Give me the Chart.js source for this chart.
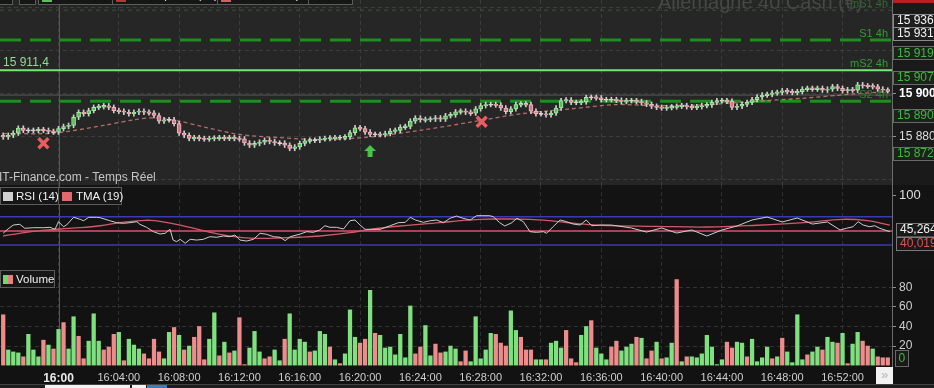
<!DOCTYPE html>
<html>
<head>
<meta charset="utf-8">
<script src="https://cdn.jsdelivr.net/npm/chart.js@4.4.0/dist/chart.umd.min.js"></script>
<style>
body { margin: 0; background: #121212; width: 934px; height: 388px; overflow: hidden; position: relative; font-family: 'Liberation Sans', Arial, sans-serif; }
canvas { position: absolute; left: 0; }
.box { position: absolute; border: 1px solid #5c5c5c; background: #161616; color: #f0f0f0; font-size: 11.5px; box-sizing: border-box; white-space: nowrap; }
.box span { position: absolute; }
.sq { width: 10px; height: 9px; }
</style>
</head>
<body>
<canvas id="price" width="934" height="185" style="top:0"></canvas>
<canvas id="rsi" width="934" height="84" style="top:185px"></canvas>
<canvas id="vol" width="934" height="119" style="top:269px"></canvas>

<!-- top legend bar (mostly off screen) -->
<div class="box" style="left:-2px;top:-10px;width:15px;height:15px"></div>
<div class="box" style="left:19px;top:-10px;width:17px;height:15px"></div>
<div class="box" style="left:38px;top:-10px;width:75px;height:15px"><span class="sq" style="left:3px;top:2px;background:#5cbf5c"></span><span style="left:16px;top:-2px">Histori. Plein</span></div>
<div class="box" style="left:112px;top:-10px;width:106px;height:15px"><span class="sq" style="left:3px;top:2px;background:#c03030"></span><span style="left:16px;top:-2px">Points pivots (4h)</span></div>
<div class="box" style="left:217px;top:-10px;width:92px;height:15px"><span class="sq" style="left:3px;top:2px;background:#d06060"></span><span style="left:16px;top:-2px">Mm. Triées (19)</span></div>
<div class="box" style="left:308px;top:-10px;width:45px;height:15px"><span style="left:6px;top:-2px">Prix</span></div>

<!-- RSI legend -->
<div class="box" style="left:0;top:187px;width:122px;height:18px">
  <span class="sq" style="left:2px;top:4px;background:#cfcfcf"></span>
  <span style="left:15px;top:2px">RSI (14)</span>
  <span style="left:57px;top:0;width:1px;height:16px;background:#5c5c5c"></span>
  <span class="sq" style="left:61px;top:4px;background:#e06a6a"></span>
  <span style="left:75px;top:2px">TMA (19)</span>
</div>

<!-- Volume legend -->
<div class="box" style="left:0;top:270px;width:55px;height:18px">
  <span style="left:2px;top:4px;width:5px;height:9px;background:#6fd86f"></span>
  <span style="left:7px;top:4px;width:5px;height:9px;background:#e88080"></span>
  <span style="left:15px;top:2px">Volume</span>
</div>

<!-- scroll button and bar -->
<div style="position:absolute;left:876px;top:367px;width:17px;height:17px;background:#f2f2f2;color:#b8b8b8;font-size:13px;line-height:16px;text-align:center">»</div>
<div style="position:absolute;left:0;top:384px;width:934px;height:4px;background:#1c1c1c;border-top:1px solid #444"></div>
<div style="position:absolute;left:45px;top:385px;width:85px;height:3px;background:#f4f4f4"></div>
<div style="position:absolute;left:132px;top:385px;width:14px;height:3px;background:#f4f4f4"></div>
<div style="position:absolute;left:147px;top:385px;width:20px;height:3px;background:#3d7fb5"></div>

<script>
// ---- data, one entry per 20 s bar, bar 11 = 16:00:00 ----
const closes = [
  15880.0, 15880.8, 15881.8, 15884.1, 15883.1, 15883.1, 15883.1, 15883.4, 15883.1, 15882.6,
  15882.3, 15883.9, 15884.9, 15885.4, 15889.2, 15891.5, 15890.8, 15892.3, 15893.8, 15894.1,
  15894.5, 15893.8, 15892.3, 15892.0, 15891.5, 15890.8, 15891.5, 15892.0, 15891.5, 15891.2,
  15890.0, 15887.4, 15888.0, 15888.0, 15886.2, 15881.8, 15880.8, 15879.3, 15879.7, 15879.3,
  15879.1, 15879.3, 15879.5, 15879.7, 15879.4, 15879.7, 15879.3, 15879.1, 15877.2, 15876.2,
  15877.0, 15877.6, 15878.5, 15877.9, 15877.2, 15877.2, 15876.2, 15874.7, 15875.4, 15877.0,
  15878.2, 15878.5, 15878.5, 15879.1, 15879.3, 15879.5, 15879.7, 15879.7, 15880.0, 15882.0,
  15884.3, 15883.9, 15882.3, 15881.2, 15881.2, 15881.1, 15881.6, 15882.8, 15883.1, 15884.6,
  15884.9, 15887.4, 15888.8, 15888.0, 15888.2, 15888.3, 15888.9, 15888.3, 15889.9, 15890.3,
  15891.7, 15892.0, 15891.5, 15891.1, 15893.1, 15894.6, 15895.1, 15895.1, 15894.9, 15893.5,
  15891.8, 15893.1, 15895.1, 15895.4, 15895.1, 15892.0, 15890.8, 15890.8, 15890.3, 15891.1,
  15893.5, 15896.9, 15897.2, 15896.1, 15896.1, 15896.3, 15898.4, 15898.4, 15898.2, 15897.4,
  15897.4, 15897.4, 15897.1, 15896.5, 15896.9, 15896.9, 15896.5, 15895.9, 15895.2, 15894.3,
  15893.8, 15893.5, 15893.7, 15894.0, 15894.3, 15894.6, 15894.1, 15893.8, 15894.1, 15894.6,
  15894.9, 15896.1, 15896.9, 15896.9, 15896.6, 15893.8, 15894.3, 15895.2, 15896.1, 15897.4,
  15898.6, 15899.5, 15899.8, 15900.5, 15900.7, 15901.5, 15901.1, 15900.7, 15901.1, 15902.3,
  15902.6, 15902.3, 15902.6, 15901.8, 15902.3, 15903.4, 15902.6, 15901.5, 15902.0, 15901.8,
  15904.3, 15903.8, 15903.7, 15903.4, 15902.3, 15901.8, 15901.5
]
const firstOpen = 15880.8

const volumes = [
  52, 16, 14, 13, 9, 32, 16, 9, 26, 21,
  17, 37, 44, 17, 50, 30, 7, 25, 53, 25,
  16, 19, 32, 34, 5, 27, 21, 17, 12, 7,
  27, 14, 7, 34, 39, 31, 16, 20, 29, 40,
  6, 27, 54, 10, 24, 13, 15, 49, 1, 18,
  35, 14, 7, 9, 16, 5, 27, 53, 16, 27,
  24, 14, 15, 35, 32, 19, 6, 2, 12, 57,
  29, 23, 27, 77, 33, 31, 18, 19, 11, 32,
  8, 61, 12, 19, 41, 10, 22, 13, 14, 20,
  17, 4, 15, 4, 50, 7, 16, 33, 32, 23,
  20, 56, 36, 29, 16, 16, 6, 6, 6, 23,
  25, 18, 36, 7, 3, 31, 40, 46, 18,
  12, 6, 19, 25, 15, 19, 22, 29, 28, 7,
  15, 24, 7, 8, 23, 88, 4, 9, 9, 8,
  12, 31, 19, 1, 6, 24, 18, 24, 23, 9,
  27, 4, 8, 19, 7, 9, 28, 14, 3, 52,
  6, 11, 14, 19, 16, 29, 24, 23, 33, 2,
  22, 34, 25, 20, 17, 9, 8, 8
]
// g = buying volume, r = selling volume
const volumeSides =
  'rgggrgggrg' + 'rgrggrrggg' + 'rrrgrgggrr' + 'rrggrgrgrr' + 'rggrgrgrrg' + 'ggrrggrggg' +
  'grgggrgrgg' + 'grrgrggggg' + 'ggrrggrrgg' + 'grrgggggrr' + 'rggrrrggrg' + 'ggrrrggrg' +
  'ggrrgggrgr' + 'rgrggrgrgg' + 'gggggrrggr' + 'ggggrgrggg' + 'grggrggrgr' + 'ggrrgrrr'

// moving average drawn on the price panel
const maBars = [0, 10, 20, 26, 30, 35, 40, 47, 55, 63, 73, 83, 93, 103, 113, 122, 129, 139, 149, 159, 169, 176]
const maValues = [15881.6, 15881.8, 15885.4, 15888.0, 15888.9, 15887.4, 15884.6, 15881.2, 15879.7, 15878.8, 15880.0,
  15883.1, 15886.9, 15890.8, 15893.1, 15895.1, 15894.6, 15894.9, 15896.5, 15898.0, 15900.0, 15901.1]

// pivot levels (4h)
const levelNames = ['mS1 4h', 'S1 4h', 'mS2 4h', 'S2 4h']
const levelValues = [15939.0, 15925.1, 15911.0, 15896.6]
const refLine = 15899.5
const markLabel = '15 911,4'

// signals
const sellSignals = [{ x: 8, y: 15877.1 }, { x: 95.2, y: 15887.1 }]
const buySignals = [{ x: 73, y: 15873.5 }]

// right-axis value tags
const priceTags = [
  { text: '15 936,8', value: 15936.8, kind: 'w' },
  { text: '15 931,4', value: 15931.4, kind: 'w' },
  { text: '15 919,2', value: 15919.2, kind: 'g' },
  { text: '15 907,6', value: 15907.6, kind: 'g' },
  { text: '15 890,1', value: 15890.1, kind: 'g' },
  { text: '15 872,5', value: 15872.5, kind: 'g' }
]
const priceTicks = [15860, 15880, 15900, 15920, 15940]
const priceLabelled = [15880, 15900]

// RSI (14) and its TMA (19)
const rsiBars = [0, 0.7, 2, 3.3, 4.3, 6, 8, 9.3, 10.3, 11, 12, 12.6, 14, 15.3, 16, 17, 18.6, 19.3, 21.2, 22.6,
  23.9, 25.2, 26.6, 27.2, 28.5, 29.9, 31.2, 32.2, 33.2, 33.8, 34.5, 35.2, 36.2, 37.2, 38.5, 39.8, 41.1, 42.5, 43.8, 45.1,
  46.1, 47.1, 48.4, 49.8, 51.1, 52.4, 53.8, 55.1, 56.1, 57.1, 59.1,
  60.4, 61.7, 63, 64, 65, 66.3, 67.7, 69, 70, 71, 72, 73.3, 75, 77, 78.6, 80, 81, 82, 83.6, 85,
  86.2, 87.6, 88.9, 90.2, 91.5, 92.9, 94.2, 96.8, 97.5, 98.8, 99.8, 101.2, 102.2, 103.5, 104.8, 106.1, 107.5, 108.1, 109.4, 110.8,
  112.1, 113.4, 114.8, 116, 117.1, 118.7,
  121, 125, 128, 131, 134, 137, 140, 143, 146, 149, 152, 155, 158, 161, 164, 166.5, 167.8, 169.1, 170.1, 171.1,
  172.4, 173.4, 174.4, 176.4]
const rsiValues = [46.6, 51.3, 58.3, 59.3, 53.7, 54.5, 54.5, 55.1, 52.2, 63.0, 55.9, 58.3, 69.2, 66.4, 64.4, 69.2, 69.2, 68.6, 64.4, 61.6,
  60.7, 61.6, 63.0, 59.3, 55.1, 48.9, 45.6, 46.6, 52.2, 37.1, 34.8, 38.1, 32.5, 38.1, 37.1, 38.1, 41.8, 41.0, 42.8, 41.8,
  44.2, 37.1, 35.7, 38.1, 46.6, 45.2, 41.8, 41.0, 36.2, 41.8, 45.6,
  48.9, 48.0, 51.3, 57.3, 55.1, 55.1, 52.7, 64.4, 65.4, 58.3, 52.2, 52.2, 52.2, 57.3, 61.6, 62.1, 69.2, 65.4, 62.1, 64.4,
  65.4, 61.6, 67.8, 71.0, 67.8, 65.4, 71.5, 71.5, 70.1, 61.6, 56.9, 61.6, 67.8, 63.0, 48.9, 48.0, 48.9, 46.6, 55.9, 65.4,
  63.0, 59.7, 58.3, 65.4, 57.3, 58.3,
  58.3, 54.1, 48.4, 54.1, 47.0, 51.3, 42.8, 51.3, 56.9, 65.4, 69.6, 62.6, 68.2, 59.7, 62.6, 51.3, 53.7, 55.9, 63.0, 58.3,
  55.9, 57.3, 53.7, 48.9]
const tmaBars = [0, 3.3, 7.3, 11.3, 15.3, 19.3, 23.2, 27.2, 29.2, 31.2, 35.2, 39.2, 43.1, 47.1, 51.1, 55.1, 59.1, 63, 69, 73,
  79, 86.9, 90.9, 94.9, 98.8, 104.8, 108.8, 112.1, 116.1, 118.7, 130, 140, 150, 160, 167, 172, 176.4]
const tmaValues = [42.8, 46.6, 50.3, 52.7, 54.5, 57.3, 61.6, 64.4, 65.0, 63.6, 58.3, 51.3, 45.2, 41.0, 39.5, 40.0, 41.0, 42.8, 47.5, 52.2,
  56.9, 61.6, 64.4, 66.4, 66.8, 66.4, 64.4, 61.6, 59.3, 57.9, 56.5, 55.5, 58.0, 62.0, 66.4, 64.4, 58.3]
const rsiBands = [70, 30]
const rsiMid = 50
const rsiTags = [{ text: '45,264', value: 45.264, color: '#f0f0f0' }, { text: '40,019', value: 40.019, color: '#e05050' }]

// time axis
const timeBars = [11, 23, 35, 47, 59, 71, 83, 95, 107, 119, 131, 143, 155, 167]
const timeLabels = ['16:00', '16:04:00', '16:08:00', '16:12:00', '16:16:00', '16:20:00', '16:24:00',
  '16:28:00', '16:32:00', '16:36:00', '16:40:00', '16:44:00', '16:48:00', '16:52:00']
const volumeTicks = [0, 20, 40, 60, 80]

const titleText = 'Allemagne 40 Cash (€)'
const sourceText = 'IT-Finance.com - Temps Réel'

// ---- layout ----
const X_MIN = -0.64, X_MAX = 176.84
const AXIS_W = 42
const FONT = "'Liberation Sans', Arial, sans-serif"

Chart.defaults.font.family = FONT
Chart.defaults.font.size = 11
Chart.defaults.animation = false
Chart.defaults.events = []
Chart.defaults.plugins.legend.display = false
Chart.defaults.plugins.tooltip.enabled = false

const bars = closes.map((c, i) => i)
const opens = closes.map((c, i) => i === 0 ? firstOpen : closes[i - 1])

function xScale(showLabels, gridColor) {
	return {
		type: 'linear', min: X_MIN, max: X_MAX, offset: false,
		grid: { color: gridColor, drawTicks: false, offset: false },
		border: { display: false, dash: [4, 3] },
		ticks: {
			display: showLabels, padding: 5, maxRotation: 0, autoSkip: false,
			color: ctx => ctx.index === 0 ? '#e8e8e8' : '#cfcfcf',
			font: ctx => ctx.index === 0 ? { size: 12, weight: 'bold' } : { size: 11 },
			callback: (v, i) => timeLabels[i]
		},
		afterBuildTicks: s => { s.ticks = timeBars.map(v => ({ value: v })) },
		afterFit: s => { s.height = showLabels ? 22 : 0; s.paddingLeft = 0; s.paddingRight = 0 }
	}
}

function background(plotColor, axisColor) {
	return {
		id: 'bg',
		beforeDraw(c) {
			const { ctx, chartArea: a } = c
			ctx.save()
			ctx.fillStyle = axisColor
			ctx.fillRect(0, 0, c.width, c.height)
			ctx.fillStyle = plotColor
			ctx.fillRect(a.left, a.top, a.right - a.left, a.bottom - a.top)
			ctx.restore()
		},
		beforeDatasetsDraw(c) {
			// the session start line is solid
			const { ctx, chartArea: a } = c
			const x = Math.round(c.scales.x.getPixelForValue(timeBars[0])) + 0.5
			ctx.save()
			ctx.strokeStyle = '#575757'
			ctx.lineWidth = 1
			ctx.beginPath(); ctx.moveTo(x, a.top); ctx.lineTo(x, a.bottom); ctx.stroke()
			ctx.restore()
		}
	}
}

function drawTag(ctx, x, yc, text, textColor, fill, stroke) {
	ctx.save()
	ctx.font = '12px ' + FONT
	const w = ctx.measureText(text).width + 8
	ctx.fillStyle = fill
	ctx.fillRect(x, yc - 6.5, w, 13)
	ctx.strokeStyle = stroke
	ctx.lineWidth = 1
	ctx.strokeRect(x + 0.5, Math.round(yc - 6.5) + 0.5, w, 13)
	ctx.fillStyle = textColor
	ctx.textBaseline = 'middle'
	ctx.fillText(text, x + 4, yc + 0.5)
	ctx.restore()
}

const line = (x0, x1, y, color, width, dash) => ({
	type: 'line', data: [{ x: x0, y }, { x: x1, y }], borderColor: color, borderWidth: width,
	borderDash: dash, pointRadius: 0, order: 8
})

const baseOptions = () => ({
	responsive: false,
	devicePixelRatio: 1,
	layout: { padding: 0, autoPadding: false }
})

// ---- price panel ----
const arrowImg = document.createElement('canvas')
arrowImg.width = 12; arrowImg.height = 12
{
	const a = arrowImg.getContext('2d')
	a.fillStyle = '#45c845'
	a.beginPath()
	a.moveTo(6, 0); a.lineTo(12, 6); a.lineTo(8.5, 6); a.lineTo(8.5, 12)
	a.lineTo(3.5, 12); a.lineTo(3.5, 6); a.lineTo(0, 6); a.closePath(); a.fill()
}

const upCol = '#5cbf5c', upEdge = '#a6e8a6', dnCol = '#d27884', dnEdge = '#f2b6be', flatCol = '#d8c0c4'
const dir = bars.map(i => Math.sign(closes[i] - opens[i]))

const priceDecor = {
	id: 'priceDecor',
	beforeDatasetsDraw(c) {
		const { ctx } = c
		ctx.save()
		ctx.font = '20px ' + FONT
		ctx.fillStyle = '#474747'
		ctx.fillText(titleText, 658, 9)
		ctx.restore()
	},
	afterDatasetsDraw(c) {
		const { ctx } = c
		const y = c.scales.y
		ctx.save()
		ctx.font = '11px ' + FONT
		ctx.textAlign = 'right'
		const colors = ['#2f6a2f', '#2f9f2f', '#2f9f2f', '#2a8a2a']
		levelNames.forEach((n, i) => {
			ctx.fillStyle = colors[i]
			ctx.fillText(n, 888, y.getPixelForValue(levelValues[i]) - 3)
		})
		ctx.textAlign = 'left'
		ctx.font = '12px ' + FONT
		ctx.fillStyle = '#8fdc8f'
		ctx.fillText(markLabel, 3, y.getPixelForValue(levelValues[2]) - 4)
		ctx.fillStyle = '#c4c4c4'
		ctx.fillText(sourceText, -1, 181)
		ctx.restore()
	},
	afterDraw(c) {
		const { ctx } = c
		const y = c.scales.y
		const x0 = c.chartArea.right + 1
		ctx.save()
		ctx.fillStyle = '#b81e1e'
		ctx.fillRect(x0, 0, 50, 3)
		ctx.restore()
		// tags are stacked under the red one so they never overlap
		let last = 13
		priceTags.forEach(t => {
			let yc = Math.max(y.getPixelForValue(t.value), last + 7)
			last = yc + 6.5
			if (t.kind === 'w') drawTag(ctx, x0, yc, t.text, '#f2f2f2', '#1e1e1e', '#8a8a8a')
			else drawTag(ctx, x0, yc, t.text, '#3fb83f', '#1b231b', '#6a6a6a')
		})
	}
}

new Chart(document.getElementById('price'), {
	type: 'bar',
	data: {
		datasets: [
			line(X_MIN, X_MAX, refLine, '#5a5a5a', 1, []),
			line(X_MIN, X_MAX, levelValues[0], '#34563a', 1, [4, 4]),
			line(X_MIN, X_MAX, levelValues[1], '#1d8f1d', 3, [21, 9]),
			line(X_MIN, X_MAX, levelValues[2], '#74e874', 2, []),
			line(X_MIN, X_MAX, levelValues[3], '#1d8f1d', 3, [21, 9]),
			{
				type: 'line', data: maBars.map((b, i) => ({ x: b, y: maValues[i] })),
				borderColor: 'rgba(205,120,120,0.85)', borderWidth: 1.3, borderDash: [4, 3],
				pointRadius: 0, tension: 0.3, order: 6
			},
			{
				type: 'bar', grouped: false, order: 5, barThickness: 1,
				data: bars.map(i => ({ x: i, y: [Math.min(opens[i], closes[i]) - 1.1, Math.max(opens[i], closes[i]) + 1.1] })),
				backgroundColor: '#cfcfcf'
			},
			{
				type: 'bar', grouped: false, order: 4, barThickness: 4, borderWidth: 1, borderSkipped: false,
				data: bars.map(i => {
					const lo = Math.min(opens[i], closes[i]), hi = Math.max(opens[i], closes[i])
					return { x: i, y: hi - lo < 0.5 ? [lo - 0.25, hi + 0.25] : [lo, hi] }
				}),
				backgroundColor: dir.map(d => d > 0 ? upCol : d < 0 ? dnCol : flatCol),
				borderColor: dir.map(d => d > 0 ? upEdge : d < 0 ? dnEdge : '#efe4e6')
			},
			{
				type: 'line', showLine: false, data: sellSignals, order: 1,
				pointStyle: 'crossRot', pointRadius: 7, borderColor: '#e85e5e', borderWidth: 3.5
			},
			{
				type: 'line', showLine: false, data: buySignals, order: 1,
				pointStyle: arrowImg, pointRadius: 6
			}
		]
	},
	options: {
		...baseOptions(),
		scales: {
			x: xScale(false, '#3c3c3c'),
			y: {
				position: 'right', min: 15857.67, max: 15943.72,
				grid: {
					color: '#3c3c3c', drawTicks: true, tickLength: 4,
					tickColor: ctx => priceLabelled.includes(ctx.tick && ctx.tick.value) ? '#909090' : 'transparent'
				},
				border: { display: true, color: '#6c6c6c', dash: [4, 3] },
				ticks: {
					padding: 3,
					color: ctx => ctx.tick && ctx.tick.value === 15900 ? '#ffffff' : '#dedede',
					font: ctx => ctx.tick && ctx.tick.value === 15900 ? { size: 12, weight: 'bold' } : { size: 12 },
					callback: v => priceLabelled.includes(v) ? String(v).slice(0, 2) + ' ' + String(v).slice(2) : ''
				},
				afterBuildTicks: s => { s.ticks = priceTicks.map(v => ({ value: v })) },
				afterFit: s => { s.width = AXIS_W; s.paddingTop = 0; s.paddingBottom = 0 }
			}
		}
	},
	plugins: [background('#262626', '#1a1a1a'), priceDecor]
})

// ---- RSI panel ----
const rsiDecor = {
	id: 'rsiDecor',
	afterDraw(c) {
		const { ctx } = c
		const y = c.scales.y
		const x0 = c.chartArea.right + 4
		const ys = rsiTags.map(t => y.getPixelForValue(t.value))
		const mid = (ys[0] + ys[1]) / 2
		rsiTags.forEach((t, i) => drawTag(ctx, x0, mid + (i === 0 ? -7 : 7), t.text, t.color, '#1a1a1a', '#7a7a7a'))
	}
}

new Chart(document.getElementById('rsi'), {
	type: 'bar',
	data: {
		datasets: [
			line(X_MIN, X_MAX, rsiBands[0], '#3a3ab4', 1.5, []),
			line(X_MIN, X_MAX, rsiBands[1], '#3a3ab4', 1.5, []),
			line(X_MIN, X_MAX, rsiMid, '#e0506e', 1.5, []),
			{
				type: 'line', data: tmaBars.map((b, i) => ({ x: b, y: tmaValues[i] })),
				borderColor: '#d4586a', borderWidth: 1.3, pointRadius: 0, tension: 0.4, order: 3
			},
			{
				type: 'line', data: rsiBars.map((b, i) => ({ x: b, y: rsiValues[i] })),
				borderColor: '#cdcdcd', borderWidth: 1, pointRadius: 0, order: 2
			}
		]
	},
	options: {
		...baseOptions(),
		scales: {
			x: xScale(false, '#303030'),
			y: {
				position: 'right', min: -3.81, max: 114.83,
				grid: { color: 'transparent', drawTicks: true, tickLength: 4, tickColor: '#909090' },
				border: { display: true, color: '#6c6c6c' },
				ticks: { padding: 3, color: '#dedede', font: { size: 13 }, callback: v => String(v) },
				afterBuildTicks: s => { s.ticks = [{ value: 100 }] },
				afterFit: s => { s.width = AXIS_W; s.paddingTop = 0; s.paddingBottom = 0 }
			}
		}
	},
	plugins: [background('#131313', '#131313'), rsiDecor]
})

// ---- volume panel ----
const volDecor = {
	id: 'volDecor',
	afterDraw(c) {
		const { ctx } = c
		const x0 = c.chartArea.right + 3
		const yc = c.scales.y.getPixelForValue(0) - 8
		ctx.save()
		ctx.fillStyle = '#1a1a1a'
		ctx.fillRect(x0, yc - 8, 13, 16)
		ctx.strokeStyle = '#6a6a6a'
		ctx.strokeRect(x0 + 0.5, Math.round(yc - 8) + 0.5, 13, 16)
		ctx.fillStyle = '#3fb83f'
		ctx.font = '12px ' + FONT
		ctx.textBaseline = 'middle'
		ctx.fillText('0', x0 + 3.5, yc + 1)
		ctx.restore()
	}
}

new Chart(document.getElementById('vol'), {
	type: 'bar',
	data: {
		datasets: [{
			type: 'bar', grouped: false, barThickness: 3.6,
			data: bars.map(i => ({ x: i, y: volumes[i] })),
			backgroundColor: bars.map(i => volumeSides[i] === 'g' ? '#7fe07f' : '#ee8c8c')
		}]
	},
	options: {
		...baseOptions(),
		scales: {
			x: xScale(true, '#303030'),
			y: {
				position: 'right', min: -0.4, max: 98.8,
				grid: {
					color: ctx => ctx.tick && ctx.tick.value === 0 ? 'transparent' : '#333333',
					drawTicks: true, tickLength: 4,
					tickColor: ctx => ctx.tick && ctx.tick.value === 0 ? 'transparent' : '#909090'
				},
				border: { display: true, color: '#6c6c6c', dash: [4, 3] },
				ticks: { padding: 3, color: '#cfcfcf', font: { size: 12 }, callback: v => v === 0 ? '' : String(v) },
				afterBuildTicks: s => { s.ticks = volumeTicks.map(v => ({ value: v })) },
				afterFit: s => { s.width = AXIS_W; s.paddingTop = 0; s.paddingBottom = 0 }
			}
		}
	},
	plugins: [background('#121212', '#121212'), volDecor]
})
</script>
</body>
</html>
